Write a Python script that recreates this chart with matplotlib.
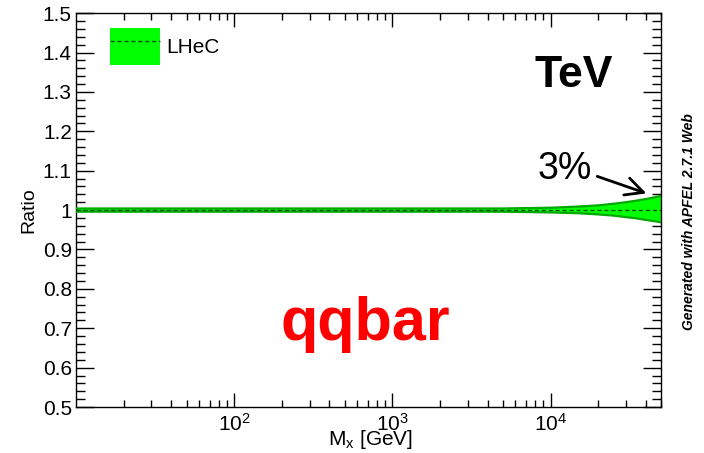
import numpy as np
import matplotlib
matplotlib.use("Agg")
from matplotlib import pyplot as plt
from matplotlib.patches import Patch
from matplotlib.lines import Line2D
from matplotlib.ticker import FixedLocator, LogLocator, MultipleLocator, NullFormatter

plt.rcParams['font.family'] = ['Liberation Sans', 'DejaVu Sans']
plt.rcParams['mathtext.fontset'] = 'custom'
plt.rcParams['mathtext.rm'] = 'Liberation Sans'
plt.rcParams['mathtext.it'] = 'Liberation Sans:italic'

# data
mx = [10, 20, 50, 100, 200, 500, 1000, 2000, 5000, 7000, 10000, 15000,
      20000, 25000, 30000, 35000, 40000, 45000, 50000]
central = [1.0] * len(mx)
err_up = [0.004, 0.004, 0.004, 0.004, 0.004, 0.004, 0.004, 0.004, 0.004, 0.005,
          0.006, 0.009, 0.012, 0.016, 0.020, 0.024, 0.028, 0.032, 0.036]
err_dn = [0.004, 0.004, 0.004, 0.004, 0.004, 0.004, 0.004, 0.004, 0.004, 0.005,
          0.006, 0.008, 0.011, 0.014, 0.018, 0.021, 0.025, 0.028, 0.031]
major_x = [100, 1000, 10000]

mx = np.array(mx)
central = np.array(central)
hi = central + np.array(err_up)
lo = central - np.array(err_dn)

fig = plt.figure(figsize=(7.04, 4.53), dpi=100)
ax = fig.add_axes([0.108, 0.1015, 0.831, 0.8695])

band_col = '#00ff00'
edge_col = '#00a800'
ax.fill_between(mx, lo, hi, color=band_col, lw=0, zorder=2)
ax.plot(mx, hi, color=edge_col, lw=1.6, zorder=3)
ax.plot(mx, lo, color=edge_col, lw=1.6, zorder=3)
ax.plot(mx, central, color='#005500', lw=1.0, ls=(0, (3, 2)), zorder=4)

ax.set_xscale('log')
ax.set_xlim(10, 50000)
ax.set_ylim(0.5, 1.5)

ax.xaxis.set_major_locator(FixedLocator(major_x))
ax.xaxis.set_minor_locator(LogLocator(base=10, subs=np.arange(2, 10)))
ax.xaxis.set_minor_formatter(NullFormatter())
ax.yaxis.set_major_locator(MultipleLocator(0.1))
ax.yaxis.set_minor_locator(MultipleLocator(0.02))
ax.yaxis.set_major_formatter(plt.FuncFormatter(lambda v, p: '%g' % round(v, 2)))

ax.tick_params(which='both', direction='in', top=True, right=True, labelsize=15, width=1.0)
ax.tick_params(axis='y', which='major', length=13, pad=3)
ax.tick_params(axis='y', which='minor', length=6.5)
ax.tick_params(axis='x', which='major', length=10, pad=4)
ax.tick_params(axis='x', which='minor', length=5)
for s in ax.spines.values():
    s.set_linewidth(1.0)

ax.set_ylabel('Ratio', fontsize=14, labelpad=4)
fig.text(0.526, 0.018, r'M$_\mathregular{x}$ [GeV]', fontsize=15, ha='center', va='baseline')

# legend
h = (Patch(facecolor=band_col, edgecolor='none'),
     Line2D([], [], color='#005500', lw=1.0, ls=(0, (3, 2))))
ax.legend([h], ['LHeC'], loc='upper left', bbox_to_anchor=(0.058, 0.962),
          frameon=False, fontsize=15, borderpad=0, borderaxespad=0,
          handlelength=2.4, handleheight=2.36, handletextpad=0.3)

ax.text(7.9e3, 1.313, 'TeV', fontsize=32, fontweight='bold', ha='left', va='baseline')
ax.text(671, 0.669, 'qqbar', fontsize=44, fontweight='bold', color='red',
        ha='center', va='baseline')
ax.text(8.3e3, 1.079, '3%', fontsize=27, ha='left', va='baseline')
ax.annotate('', xy=(4.2e4, 1.04), xytext=(1.9e4, 1.088),
            arrowprops=dict(arrowstyle='->', lw=2, color='black', mutation_scale=32))

fig.text(0.979, 0.51, 'Generated with APFEL 2.7.1 Web', rotation=90, fontsize=10,
         fontweight='bold', fontstyle='italic', ha='center', va='center')

fig.savefig('out.png', dpi=100)
